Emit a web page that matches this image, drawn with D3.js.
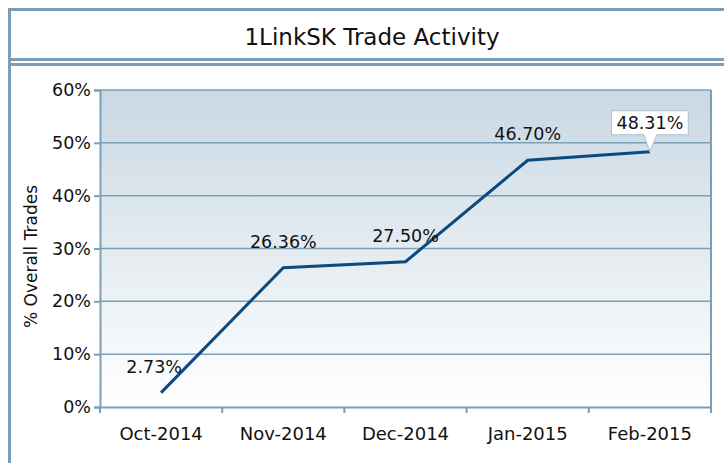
<!DOCTYPE html>
<html>
<head>
<meta charset="utf-8">
<script src="https://cdn.jsdelivr.net/npm/d3@7"></script>
<style>
  html, body { margin: 0; padding: 0; background: #fff; }
  svg { display: block; font-family: "DejaVu Sans", sans-serif; }
</style>
</head>
<body>
<div id="chart"></div>
<script>
// Data
const months = ["Oct-2014", "Nov-2014", "Dec-2014", "Jan-2015", "Feb-2015"];
const shares = [2.73, 26.36, 27.50, 46.70, 48.31];
const yTicks = [0, 10, 20, 30, 40, 50, 60];
const chartTitle = "1LinkSK Trade Activity";
const yTitle = "% Overall Trades";

// Styling
const frameStroke = "#7c9fb8";
const lineColour = "#0b4a80";
const width = 724, height = 463;
const plot = { left: 100, right: 711, top: 90, bottom: 407 };

const svg = d3.select("#chart").append("svg")
  .attr("width", width)
  .attr("height", height);

// Background gradient for the plot area
const grad = svg.append("defs").append("linearGradient")
  .attr("id", "bg").attr("x1", 0).attr("y1", 0).attr("x2", 0).attr("y2", 1);
grad.append("stop").attr("offset", "0%").attr("stop-color", "#c9d8e3");
grad.append("stop").attr("offset", "100%").attr("stop-color", "#ffffff");

// Outer frame (runs past the right and bottom edges)
svg.append("rect")
  .attr("x", 9.5).attr("y", 9.5)
  .attr("width", 740).attr("height", 470)
  .attr("fill", "none")
  .attr("stroke", frameStroke)
  .attr("stroke-width", 3);

// Title band double line
[59.5, 64.5].forEach(y => {
  svg.append("line")
    .attr("x1", 9).attr("x2", width)
    .attr("y1", y).attr("y2", y)
    .attr("stroke", frameStroke)
    .attr("stroke-width", 3);
});

svg.append("text")
  .attr("x", 372).attr("y", 45)
  .attr("text-anchor", "middle")
  .attr("font-size", 23)
  .attr("fill", "#111")
  .text(chartTitle);

// Scales
const xScale = d3.scaleBand()
  .domain(months)
  .range([plot.left, plot.right]);

const yScale = d3.scaleLinear()
  .domain([0, 60])
  .range([plot.bottom, plot.top]);

// Plot background
svg.append("rect")
  .attr("x", plot.left).attr("y", plot.top)
  .attr("width", plot.right - plot.left)
  .attr("height", plot.bottom - plot.top)
  .attr("fill", "url(#bg)");

// Gridlines
svg.append("g")
  .selectAll("line")
  .data(yTicks.slice(1))
  .join("line")
  .attr("x1", plot.left).attr("x2", plot.right)
  .attr("y1", d => yScale(d)).attr("y2", d => yScale(d))
  .attr("stroke", frameStroke)
  .attr("stroke-width", 1.5);

// Plot right border
svg.append("line")
  .attr("x1", plot.right).attr("x2", plot.right)
  .attr("y1", plot.top).attr("y2", plot.bottom)
  .attr("stroke", frameStroke)
  .attr("stroke-width", 2);

// Axes
const yAxis = d3.axisLeft(yScale)
  .tickValues(yTicks)
  .tickFormat(d => d + "%")
  .tickSize(6)
  .tickPadding(3);

const gy = svg.append("g")
  .attr("transform", `translate(${plot.left},0)`)
  .call(yAxis);
gy.select(".domain").attr("stroke", frameStroke).attr("stroke-width", 2);
gy.selectAll(".tick line").attr("stroke", frameStroke).attr("stroke-width", 2);
gy.selectAll(".tick text")
  .attr("font-size", 17.5)
  .attr("font-family", "DejaVu Sans, sans-serif")
  .attr("fill", "#111");

const xAxis = d3.axisBottom(xScale).tickSize(0).tickPadding(20);
const gx = svg.append("g")
  .attr("transform", `translate(0,${plot.bottom})`)
  .call(xAxis);
gx.select(".domain").attr("stroke", frameStroke).attr("stroke-width", 2);
gx.selectAll(".tick text")
  .attr("font-size", 18)
  .attr("font-family", "DejaVu Sans, sans-serif")
  .attr("fill", "#111");

// Category boundary ticks below the axis
const bounds = months.map(m => xScale(m)).concat([xScale(months[months.length - 1]) + xScale.bandwidth()]);
svg.append("g")
  .selectAll("line")
  .data(bounds)
  .join("line")
  .attr("x1", d => d).attr("x2", d => d)
  .attr("y1", plot.bottom).attr("y2", plot.bottom + 6)
  .attr("stroke", frameStroke)
  .attr("stroke-width", 2);

// Y axis title
svg.append("text")
  .attr("transform", `translate(37,${(plot.top + plot.bottom) / 2 + 8}) rotate(-90)`)
  .attr("text-anchor", "middle")
  .attr("font-size", 17)
  .attr("fill", "#111")
  .text(yTitle);

// Line
const cx = (d, i) => xScale(months[i]) + xScale.bandwidth() / 2;
const line = d3.line()
  .x(cx)
  .y(d => yScale(d));

svg.append("path")
  .datum(shares)
  .attr("d", line)
  .attr("fill", "none")
  .attr("stroke", lineColour)
  .attr("stroke-width", 3)
  .attr("stroke-linejoin", "miter");

// Data labels (first one nudged left, last one in a callout)
const last = shares.length - 1;
svg.append("g")
  .selectAll("text")
  .data(shares)
  .join("text")
  .attr("x", (d, i) => i === 0 ? cx(d, i) - 7 : cx(d, i))
  .attr("y", (d, i) => i === last ? yScale(d) - 23 : yScale(d) - 20)
  .attr("text-anchor", "middle")
  .attr("font-size", 17.5)
  .attr("fill", "#111")
  .text(d => d.toFixed(2) + "%")
  .each(function (d, i) {
    if (i !== last) return;
    const bb = this.getBBox();
    const px = cx(d, i), py = yScale(d);
    const l = bb.x - 5, r = bb.x + bb.width + 5, t = bb.y - 2, b = bb.y + bb.height + 2;
    d3.select(this.parentNode).insert("path", "text")
      .attr("d", `M${l},${t}H${r}V${b}H${px + 7}L${px},${py}L${px - 6},${b}H${l}Z`)
      .attr("fill", "#fff")
      .attr("stroke", "#a8c0d2")
      .attr("stroke-width", 1);
  });
</script>
</body>
</html>
